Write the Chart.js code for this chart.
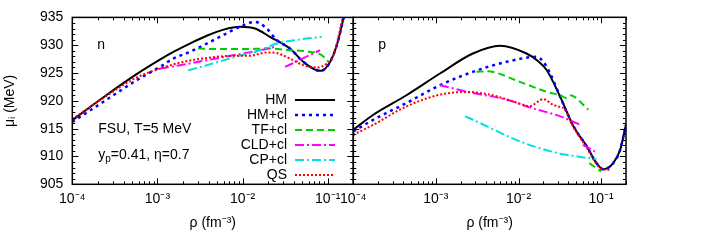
<!DOCTYPE html>
<html>
<head>
<meta charset="utf-8">
<script src="https://cdn.jsdelivr.net/npm/chart.js@4.4.0/dist/chart.umd.min.js"></script>
<style>
  body { margin: 0; background: #fff; }
  #wrap { position: relative; width: 706px; height: 247px; }
  .box { position: absolute; top: 0; }
</style>
</head>
<body>
<div id="wrap">
  <div class="box" style="left:0"><canvas id="chart-n" width="360" height="247"></canvas></div>
  <div class="box" style="left:330px"><canvas id="chart-p" width="376" height="247"></canvas></div>
</div>
<script>
const xTickValues = [1e-4, 1e-3, 1e-2, 1e-1];
const xTickLabels = ['10⁻⁴', '10⁻³', '10⁻²', '10⁻¹'];
const yTickValues = [905, 910, 915, 920, 925, 930, 935];
const yTickLabels = ['905', '910', '915', '920', '925', '930', '935'];
const seriesLabels = ['HM', 'HM+cl', 'TF+cl', 'CLD+cl', 'CP+cl', 'QS'];

// neutrons (left panel)
const hmN_rho = [1e-4, 2.3e-4, 5.7e-4, 1.07e-3, 1.54e-3, 2.4e-3, 3.8e-3, 6e-3, 9.3e-3, 0.014, 0.021, 0.036, 0.052, 0.0745, 0.083, 0.092, 0.107, 0.128, 0.153, 0.17, 0.2];
const hmN_mu  = [916.5, 920.6, 924.8, 927.4, 928.8, 930.3, 931.7, 932.8, 933.3, 933.0, 931.5, 929.4, 927.0, 925.5, 925.4, 925.7, 927.0, 930.0, 934.8, 938, 945];
const hmclN_rho = [1e-4, 2.3e-4, 5.7e-4, 1.07e-3, 1.54e-3, 2.4e-3, 3.8e-3, 5.9e-3, 9.3e-3, 0.014, 0.0192, 0.0253, 0.0276, 0.036, 0.052, 0.0745, 0.083, 0.092, 0.107, 0.128, 0.153, 0.17];
const hmclN_mu  = [916.2, 919.8, 923.7, 926.1, 927.6, 928.8, 930.3, 931.8, 933.3, 934.2, 933.0, 930.9, 930.5, 929.4, 927.0, 925.5, 925.4, 925.7, 927.0, 930.0, 934.8, 938];
const tfN_rho = [3.0e-3, 5e-3, 0.01, 0.021, 0.036, 0.057, 0.081, 0.092, 0.102];
const tfN_mu  = [929.4, 929.3, 929.3, 929.4, 929.1, 928.9, 928.4, 927.8, 927.0];
const cldN_rho = [1.07e-3, 1.84e-3, 3.8e-3, 7.8e-3, 0.0161, 0.0253, 0.028, 0.0316, 0.0813];
const cldN_mu  = [925.8, 926.4, 927.3, 928.2, 929.1, 929.8, null, 926.1, 929.1];
const cpN_rho = [2.3e-3, 3.8e-3, 7.8e-3, 0.0161, 0.0253, 0.045, 0.0852];
const cpN_mu  = [925.5, 926.4, 927.8, 929.1, 930.3, 931.0, 931.5];
const qsN_rho = [1e-4, 2.3e-4, 5.7e-4, 1.07e-3, 2e-3, 3.8e-3, 7.8e-3, 0.0122, 0.0192, 0.0253, 0.0276, 0.036, 0.052, 0.0745, 0.0975, 0.117, 0.146, 0.17];
const qsN_mu  = [916.7, 920.5, 924.2, 925.8, 927.0, 927.7, 928.1, 928.1, 928.7, 928.6, 928.4, 927.6, 926.4, 926.0, 926.7, 928.2, 934.2, 940];

// protons (right panel)
const hmP_rho = [1e-4, 1.75e-4, 4.4e-4, 1.12e-3, 2.8e-3, 6e-3, 0.0125, 0.017, 0.022, 0.032, 0.046, 0.067, 0.088, 0.106, 0.14, 0.17, 0.2];
const hmP_mu  = [914.8, 917.5, 921.0, 924.9, 928.5, 929.9, 928.5, 927.2, 925.5, 920.7, 915.5, 911.8, 908.8, 907.7, 908.8, 911.2, 915.8];
const hmclP_rho = [1e-4, 1.75e-4, 4.4e-4, 1.12e-3, 2.8e-3, 7.2e-3, 0.0166, 0.02, 0.024, 0.032, 0.046, 0.067, 0.088, 0.106, 0.14, 0.17, 0.2];
const hmclP_mu  = [914.5, 916.6, 919.6, 922.8, 925.2, 927.0, 927.9, 927.0, 925.0, 920.7, 915.5, 911.8, 908.8, 907.7, 908.8, 911.2, 915.8];
const tfP_rho = [3.1e-3, 4.1e-3, 0.0104, 0.022, 0.032, 0.038, 0.042, 0.07, 0.071, 0.072, 0.1];
const tfP_mu  = [925.2, 925.3, 923.4, 921.6, 921.0, 920.5, 921.0, 918.4, null, 908.8, 907.3];
const cldP_rho = [1.12e-3, 2.8e-3, 7.2e-3, 0.0125, 0.032, 0.058, 0.059, 0.06, 0.084];
const cldP_mu  = [922.8, 921.4, 920.2, 919.0, 917.2, 915.6, null, 912.1, 910.9];
const cpP_rho = [2.25e-3, 2.8e-3, 0.0104, 0.032, 0.038, 0.088];
const cpP_mu  = [917.2, 916.6, 912.7, 910.5, 910.3, 909.5];
const qsP_rho = [1e-4, 1.75e-4, 4.4e-4, 1.12e-3, 2.3e-3, 4.5e-3, 0.0114, 0.0135, 0.02, 0.026, 0.03, 0.036, 0.046, 0.067, 0.088, 0.106, 0.128];
const qsP_mu  = [913.9, 915.7, 919.0, 921.1, 921.6, 921.1, 919.3, 919.0, 920.3, 919.3, 919.0, 918.5, 915.3, 911.6, 908.6, 907.6, 907.6];

const FONT = "'Liberation Sans', Arial, Helvetica, sans-serif";

const styles = [
  { color: '#000000', width: 2, dash: [] },
  { color: '#0000ff', width: 2.5, dash: [3, 4] },
  { color: '#00cc00', width: 2, dash: [7, 4] },
  { color: '#ff00ff', width: 2, dash: [9, 3, 2, 3] },
  { color: '#00e0e0', width: 2, dash: [9, 3, 2, 3] },
  { color: '#ff0000', width: 2, dash: [2, 2] }
];

function pts(rho, mu) {
  return rho.map((r, i) => ({ x: r, y: mu[i] }));
}

function makeDatasets(series) {
  return series.map((s, i) => ({
    label: seriesLabels[i],
    data: pts(s[0], s[1]),
    borderColor: styles[i].color,
    borderWidth: styles[i].width,
    borderDash: styles[i].dash,
    pointRadius: 0,
    fill: false,
    spanGaps: false,
    cubicInterpolationMode: 'monotone',
    clip: 0,
    order: 6 - i
  }));
}

// frame with inward major/minor ticks, gnuplot style
const framePlugin = {
  id: 'frame',
  afterDatasetsDraw(chart) {
    const { ctx, chartArea: a, scales: { x, y } } = chart;
    ctx.save();
    ctx.strokeStyle = '#000';
    ctx.lineWidth = 1;
    ctx.beginPath();
    for (let d = -4; d <= 0; d++) {
      for (let m = 1; m <= 9; m++) {
        const v = m * Math.pow(10, d);
        if (v < x.min || v > x.max) continue;
        const px = Math.round(x.getPixelForValue(v)) + 0.5;
        const len = m === 1 ? 6 : 3;
        ctx.moveTo(px, a.bottom); ctx.lineTo(px, a.bottom - len);
        ctx.moveTo(px, a.top); ctx.lineTo(px, a.top + len);
      }
    }
    for (let v = 905; v <= 935; v++) {
      const py = Math.round(y.getPixelForValue(v)) + 0.5;
      const len = v % 5 === 0 ? 6 : 3;
      ctx.moveTo(a.left, py); ctx.lineTo(a.left + len, py);
      ctx.moveTo(a.right, py); ctx.lineTo(a.right - len, py);
    }
    ctx.stroke();
    ctx.lineWidth = 1.5;
    ctx.strokeRect(a.left, a.top, a.right - a.left, a.bottom - a.top);
    ctx.restore();
  }
};

const textPlugin = {
  id: 'panelText',
  afterDraw(chart, args, opts) {
    const { ctx, chartArea: a } = chart;
    ctx.save();
    ctx.fillStyle = '#000';
    ctx.font = '14px ' + FONT;
    ctx.textBaseline = 'middle';
    ctx.textAlign = 'left';
    ctx.fillText(opts.tag, a.left + 25, a.top + 28);
    if (opts.legend) {
      ctx.fillText('FSU, T=5 MeV', a.left + 26, 129);
      // y_p=0.41, eta=0.7
      let xx = a.left + 26;
      ctx.fillText('y', xx, 155);
      xx += ctx.measureText('y').width;
      ctx.font = '10px ' + FONT;
      ctx.fillText('p', xx, 159);
      xx += ctx.measureText('p').width;
      ctx.font = '14px ' + FONT;
      ctx.fillText('=0.41, η=0.7', xx, 155);

      chart.data.datasets.forEach((ds, i) => {
        const yy = 100 + 15 * i;
        ctx.textAlign = 'right';
        ctx.fillText(ds.label, 287, yy);
        ctx.beginPath();
        ctx.strokeStyle = ds.borderColor;
        ctx.lineWidth = ds.borderWidth;
        ctx.setLineDash(ds.borderDash);
        ctx.moveTo(295, yy);
        ctx.lineTo(335, yy);
        ctx.stroke();
      });
    }
    ctx.restore();
  }
};

function makeChart(id, series, leftWidth, rightPad, showY, tag, legend) {
  const ctx = document.getElementById(id).getContext('2d');
  return new Chart(ctx, {
    type: 'line',
    data: { datasets: makeDatasets(series) },
    plugins: [framePlugin, textPlugin],
    options: {
      responsive: false,
      animation: false,
      layout: { padding: { top: 17.3, right: rightPad, bottom: 0, left: 0 } },
      plugins: {
        legend: { display: false },
        tooltip: { enabled: false },
        panelText: { tag: tag, legend: legend }
      },
      scales: {
        x: {
          type: 'logarithmic',
          min: 1e-4,
          max: 0.2,
          afterBuildTicks: s => { s.ticks = xTickValues.map(v => ({ value: v })); },
          afterFit: s => { s.height = 62.7; },
          grid: { display: false, drawTicks: false },
          border: { display: false },
          ticks: {
            callback: (v, i) => xTickLabels[i],
            autoSkip: false,
            maxRotation: 0,
            padding: 6,
            color: '#000',
            font: { size: 14, family: FONT }
          },
          title: {
            display: true,
            text: 'ρ (fm⁻³)',
            color: '#000',
            font: { size: 14, family: FONT },
            padding: { top: 0, bottom: 15 }
          }
        },
        y: {
          min: 905,
          max: 935,
          afterBuildTicks: s => { s.ticks = yTickValues.map(v => ({ value: v })); },
          afterFit: s => { s.width = leftWidth; },
          grid: { display: false, drawTicks: false },
          border: { display: false },
          ticks: {
            display: showY,
            callback: (v, i) => yTickLabels[i],
            padding: 9,
            color: '#000',
            font: { size: 14, family: FONT }
          },
          title: {
            display: showY,
            text: 'μᵢ (MeV)',
            color: '#000',
            font: { size: 14, family: FONT },
            padding: { top: 2, bottom: 0 }
          }
        }
      }
    }
  });
}

makeChart('chart-n', [
  [hmN_rho, hmN_mu], [hmclN_rho, hmclN_mu], [tfN_rho, tfN_mu],
  [cldN_rho, cldN_mu], [cpN_rho, cpN_mu], [qsN_rho, qsN_mu]
], 72.3, 6.7, true, 'n', true);

makeChart('chart-p', [
  [hmP_rho, hmP_mu], [hmclP_rho, hmclP_mu], [tfP_rho, tfP_mu],
  [cldP_rho, cldP_mu], [cpP_rho, cpP_mu], [qsP_rho, qsP_mu]
], 23.3, 80, false, 'p', false);
</script>
</body>
</html>
